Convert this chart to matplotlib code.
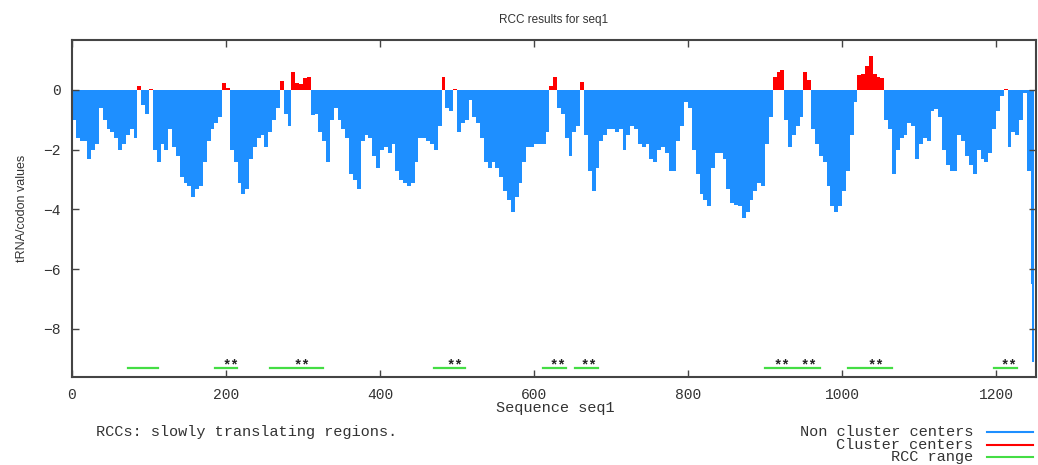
import numpy as np
import matplotlib
matplotlib.use("Agg")
import matplotlib.pyplot as plt

# ---- data (sequence position bins of 5 residues) ----
bin_start = np.arange(0, 1245, 5)
values = [
    -1.0, -1.6, -1.7, -1.7, -2.3, -2.0, -1.8, -0.6, -1.0, -1.3,   # 0-45
    -1.4, -1.6, -2.0, -1.8, -1.5, -1.3, -1.6, 0.15, -0.5, -0.8,   # 50-95
    0.05, -2.0, -2.4, -1.8, -2.0, -1.3, -1.9, -2.2, -2.9, -3.1,   # 100-145
    -3.2, -3.6, -3.3, -3.2, -2.4, -1.7, -1.3, -1.1, -0.9, 0.25,   # 150-195
    0.08, -2.0, -2.4, -3.1, -3.5, -3.3, -2.3, -1.9, -1.6, -1.5,   # 200-245
    -1.9, -1.4, -1.0, -0.6, 0.3, -0.8, -1.2, 0.6, 0.25, 0.2,      # 250-295
    0.4, 0.45, -0.85, -0.8, -1.4, -1.7, -2.4, -1.0, -0.6, -1.0,   # 300-345
    -1.3, -1.6, -2.8, -3.0, -3.3, -1.7, -1.5, -1.6, -2.2, -2.6,   # 350-395
    -2.0, -1.9, -2.1, -1.8, -2.7, -3.0, -3.1, -3.2, -3.1, -2.4,   # 400-445
    -1.6, -1.6, -1.7, -1.8, -2.0, -1.2, 0.45, -0.6, -0.7, 0.05,   # 450-495
    -1.4, -1.1, -1.0, -0.35, -0.9, -1.1, -1.6, -2.4, -2.6, -2.4,  # 500-545
    -2.6, -2.9, -3.4, -3.7, -4.1, -3.6, -3.1, -2.4, -1.9, -1.9,   # 550-595
    -1.8, -1.8, -1.8, -1.4, 0.12, 0.45, -0.6, -0.8, -1.6, -2.2,   # 600-645
    -1.4, -1.2, 0.28, -1.5, -2.7, -3.4, -2.6, -1.7, -1.5, -1.3,   # 650-695
    -1.3, -1.4, -1.3, -2.0, -1.5, -1.2, -1.3, -1.8, -1.9, -1.8,   # 700-745
    -2.3, -2.4, -2.0, -1.9, -2.1, -2.7, -2.7, -1.7, -1.2, -0.4,   # 750-795
    -0.6, -2.0, -2.8, -3.5, -3.7, -3.9, -2.6, -2.1, -2.1, -2.3,   # 800-845
    -3.3, -3.8, -3.85, -3.9, -4.3, -4.1, -3.7, -3.4, -3.1, -3.2,  # 850-895
    -1.8, -0.9, 0.45, 0.6, 0.67, -1.0, -1.9, -1.5, -1.2, -0.9,    # 900-945
    0.6, 0.35, -1.3, -1.8, -2.2, -2.4, -3.2, -3.9, -4.1, -3.9,    # 950-995
    -3.4, -2.7, -1.5, -0.4, 0.5, 0.55, 0.8, 1.15, 0.55, 0.45,     # 1000-1045
    0.4, -1.0, -1.3, -2.8, -2.0, -1.6, -1.5, -1.1, -1.2, -2.3,    # 1050-1095
    -1.8, -1.6, -1.7, -0.7, -0.65, -0.9, -2.0, -2.5, -2.7, -2.7,  # 1100-1145
    -1.5, -1.7, -2.2, -2.5, -2.8, -2.0, -2.3, -2.4, -2.1, -1.3,   # 1150-1195
    -0.7, -0.2, 0.04, -1.9, -1.4, -1.5, -1.0, -0.1, -2.7,         # 1200-1240
]
# last residues, one by one
tail_pos = [1245, 1246, 1247, 1248, 1249]
tail_vals = [-2.7, -6.5, -9.1, -9.1, -9.1]
seq_end = 1250

# RCC ranges (start, end) and cluster-centre labels
rcc_ranges = [(73, 112), (186, 214), (257, 326), (470, 511), (612, 642),
              (653, 683), (900, 971), (1008, 1065), (1198, 1227)]
centre_pos = [207, 299, 497, 631, 671, 922, 957, 1044, 1217]
rcc_level = -9.31
label_level = -9.22

xticks = [0, 200, 400, 600, 800, 1000, 1200]
yticks = [-8, -6, -4, -2, 0]

BLUE = "#1E8FFF"
RED = "#FF0000"
GREEN = "#44DD44"
TXT = "#333333"

W, H = 1038, 465
fig = plt.figure(figsize=(W / 100, H / 100), dpi=100)
ax = fig.add_axes([72 / W, 1 - 377 / H, (1036 - 72) / W, (377 - 40) / H])

xe = np.concatenate([bin_start, tail_pos, [seq_end]]).astype(float)
ye = np.concatenate([values, tail_vals, [tail_vals[-1]]]).astype(float)

ax.fill_between(xe, 0, np.minimum(ye, 0), step="post", color=BLUE, lw=0)
ax.fill_between(xe, 0, np.maximum(ye, 0), step="post", color=RED, lw=0)

for s, e in rcc_ranges:
    ax.plot([s, e], [rcc_level, rcc_level], color=GREEN, lw=1.6)
mono = ["Liberation Mono", "DejaVu Sans Mono"]
for c in centre_pos:
    ax.text(c, label_level, "**", ha="center", va="center", fontsize=10,
            family=mono, color="#222222", fontweight="bold")

ax.set_xlim(0, 1252)
ax.set_ylim(-9.615, 1.675)
ax.set_xticks(xticks)
ax.set_yticks(yticks)
ax.tick_params(direction="in", top=True, right=True, length=5, width=1,
               colors="#444444", labelcolor=TXT, labelsize=10.5, pad=8)
for lab in ax.get_xticklabels() + ax.get_yticklabels():
    lab.set_family(mono)
for sp in ax.spines.values():
    sp.set_linewidth(1.5)
    sp.set_color("#444444")

narrow = ["Liberation Sans Narrow", "Liberation Sans", "DejaVu Sans"]
fig.text(554 / W, 1 - 20 / H, "RCC results for seq1", ha="center", va="center",
         fontsize=8.5, family=narrow, color=TXT)
fig.text(22 / W, 1 - 208 / H, "tRNA/codon values", ha="center", va="center",
         rotation=90, fontsize=9, family=narrow, color=TXT)
fig.text(555 / W, 1 - 408 / H, "Sequence seq1", ha="center", va="center",
         fontsize=11, family=mono, color=TXT)
fig.text(96 / W, 1 - 432 / H, "RCCs: slowly translating regions.", ha="left",
         va="center", fontsize=11, family=mono, color=TXT)

legend_items = [("Non cluster centers", BLUE, 432), ("Cluster centers", RED, 445),
                ("RCC range", GREEN, 457)]
for name, col, yy in legend_items:
    fig.text(973 / W, 1 - yy / H, name, ha="right", va="center", fontsize=11,
             family=mono, color=TXT)
    fig.add_artist(plt.Line2D([987 / W, 1033 / W], [1 - yy / H, 1 - yy / H],
                              transform=fig.transFigure, color=col, lw=1.5))

fig.savefig("out.png", dpi=100)
